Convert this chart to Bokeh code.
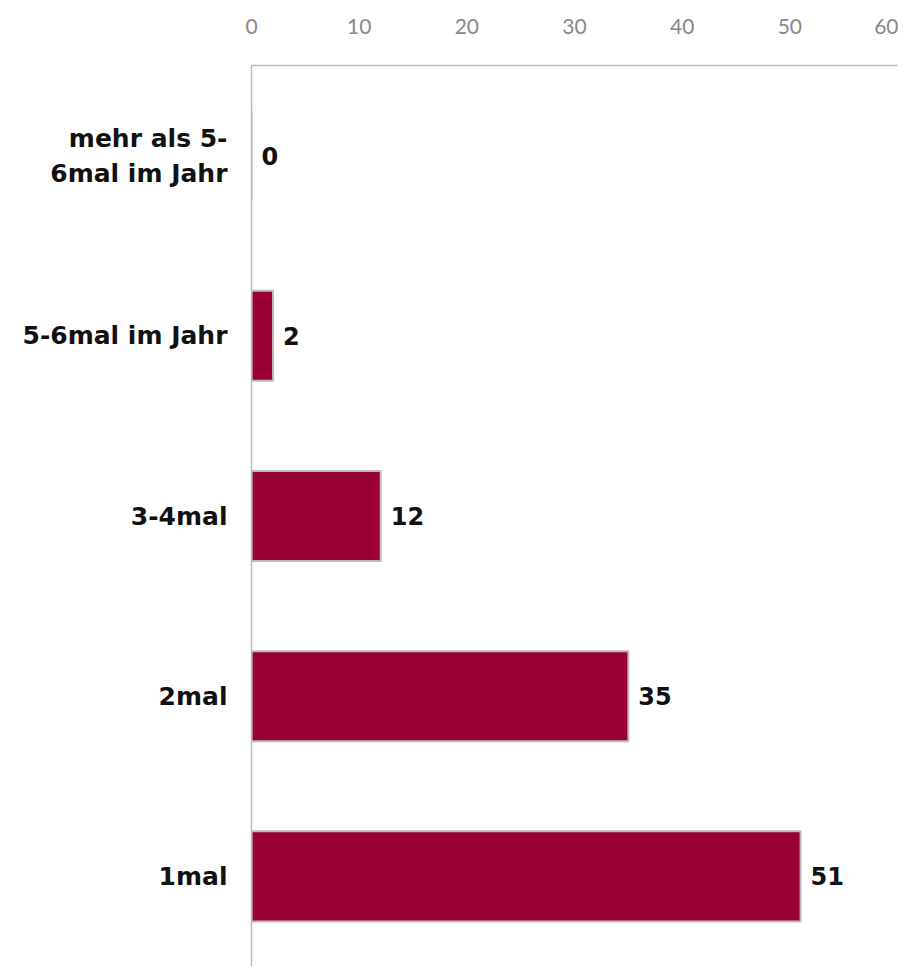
from bokeh.plotting import figure
from bokeh.models import ColumnDataSource, FixedTicker
from bokeh.core.properties import value
from bokeh.embed import file_html
from bokeh.resources import INLINE

categories = ["mehr als 5-\n6mal im Jahr", "5-6mal im Jahr", "3-4mal", "2mal", "1mal"]
values = [0, 2, 12, 35, 51]
x_ticks = [0, 10, 20, 30, 40, 50, 60]

src = ColumnDataSource(dict(cat=categories, val=values, lab=[str(v) for v in values]))

p = figure(width=898, height=966, y_range=list(reversed(categories)), x_range=(0, 60),
           x_axis_location="above", output_backend="svg", toolbar_location=None,
           min_border_left=251, min_border_top=65, min_border_right=1, min_border_bottom=0)
p.outline_line_color = None
p.grid.grid_line_color = None

p.hbar(y="cat", right="val", left=0, height=0.5, source=src,
       fill_color="#990033", line_color="#bbbbbb", line_width=2)
p.text(x="val", y="cat", text="lab", source=src, x_offset=10,
       text_font=value("DejaVu Sans"), text_font_style="bold", text_font_size="24px",
       text_color="#111111", text_baseline="middle", text_align="left")

xa = p.xaxis[0]
xa.ticker = FixedTicker(ticks=x_ticks)
xa.axis_line_color = "#bbbbbb"
xa.axis_line_width = 1.5
xa.major_tick_line_color = None
xa.minor_tick_line_color = None
xa.major_label_text_font = "Lato"
xa.major_label_text_font_size = "21px"
xa.major_label_text_color = "#888888"
xa.major_label_standoff = 26

ya = p.yaxis[0]
ya.axis_line_color = "#bbbbbb"
ya.axis_line_width = 1.5
ya.major_tick_line_color = None
ya.minor_tick_line_color = None
ya.major_label_text_font = "DejaVu Sans"
ya.major_label_text_font_style = "bold"
ya.major_label_text_font_size = "25px"
ya.major_label_text_color = "#111111"
ya.major_label_standoff = 18

open("out.html", "w").write(file_html(p, INLINE))
